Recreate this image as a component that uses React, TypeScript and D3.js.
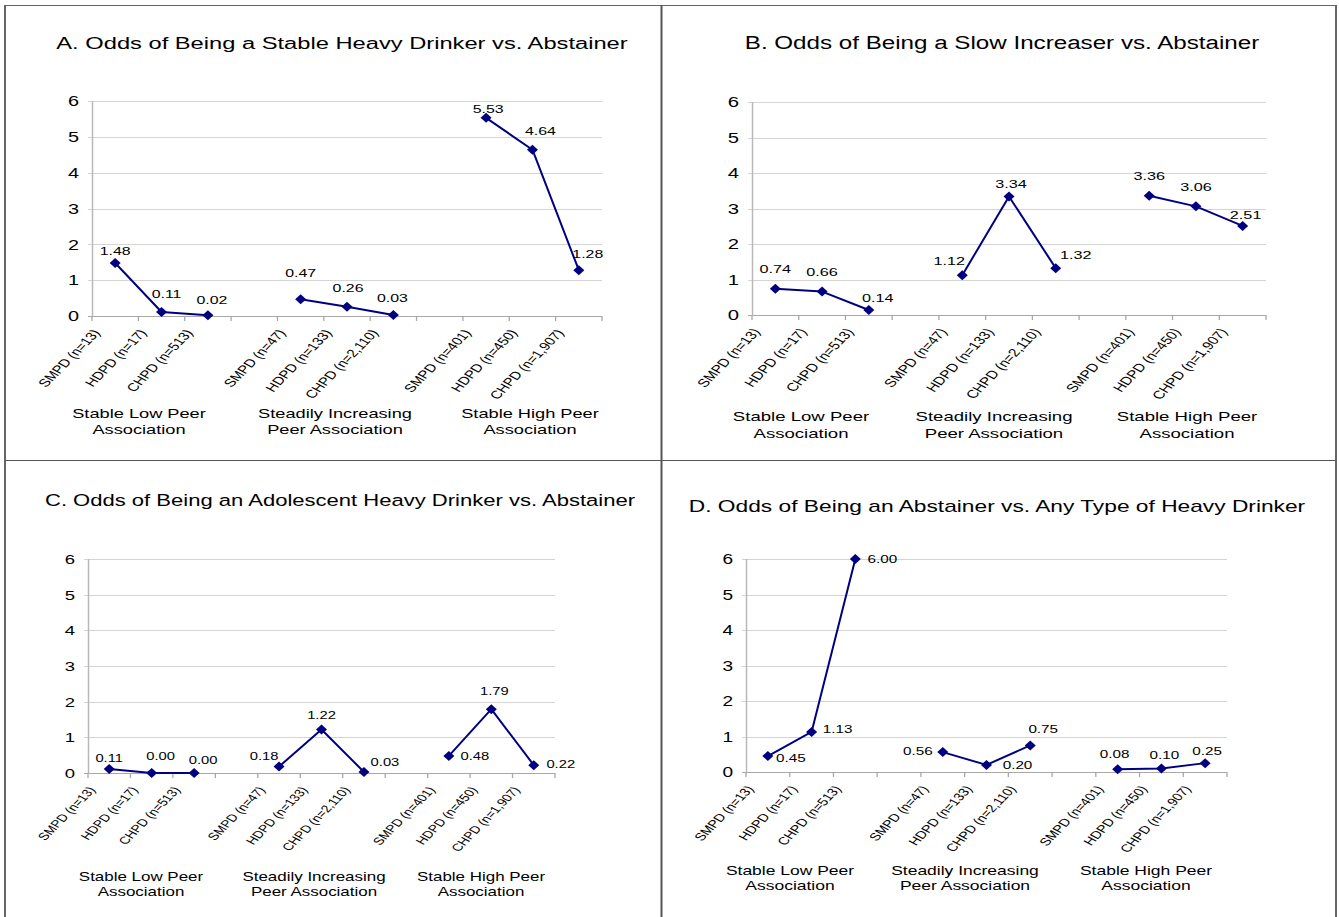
import React from 'react';
import * as d3 from 'd3';

// Categories along every x axis (blank slots separate the three peer groups)
const categories = [
  'SMPD (n=13)', 'HDPD (n=17)', 'CHPD (n=513)', '',
  'SMPD (n=47)', 'HDPD (n=133)', 'CHPD (n=2,110)', '',
  'SMPD (n=401)', 'HDPD (n=450)', 'CHPD (n=1,907)',
];

const groupLabels = [
  ['Stable Low Peer', 'Association'],
  ['Steadily Increasing', 'Peer Association'],
  ['Stable High Peer', 'Association'],
];

const yTicks = [0, 1, 2, 3, 4, 5, 6];

const titles = [
  'A. Odds of Being a Stable Heavy Drinker vs. Abstainer',
  'B. Odds of Being a Slow Increaser vs. Abstainer',
  'C. Odds of Being an Adolescent Heavy Drinker vs. Abstainer',
  'D. Odds of Being an Abstainer vs. Any Type of Heavy Drinker',
];

// Odds ratios per category (null = gap between groups)
const oddsA = [1.48, 0.11, 0.02, null, 0.47, 0.26, 0.03, null, 5.53, 4.64, 1.28];
const oddsB = [0.74, 0.66, 0.14, null, 1.12, 3.34, 1.32, null, 3.36, 3.06, 2.51];
const oddsC = [0.11, 0.0, 0.0, null, 0.18, 1.22, 0.03, null, 0.48, 1.79, 0.22];
const oddsD = [0.45, 1.13, 6.0, null, 0.56, 0.2, 0.75, null, 0.08, 0.1, 0.25];

// Data-label placement relative to each marker (label centre offset, px)
const labelOffsetsA = [[0, -12], [5, -18], [4, -15], null, [0, -26], [1, -19], [-1, -17], null, [2, -9], [8, -19], [9, -16]];
const labelOffsetsB = [[0, -20], [0, -20], [9, -12], null, [-13, -15], [2, -13], [20, -13], null, [0, -20], [0, -20], [3, -11]];
const labelOffsetsC = [[0, -11], [9, -17], [9, -13], null, [-15, -10], [0, -14], [21, -10], null, [26, 0], [3, -18], [27, -1]];
const labelOffsetsD = [[23, 2], [26, -3], [27, 0], null, [-25, -1], [31, 0], [13, -16], null, [-3, -15], [3, -13], [2, -12]];

const SX = 1.37; // horizontal stretch applied to all text
const FONT = '"Liberation Sans", Arial, Helvetica, sans-serif';
const NAVY = '#000080';

const panels = [
  { title: titles[0], values: oddsA, offsets: labelOffsetsA, k: 1.0, x0: 92, x1: 602, yTop: 101, yBase: 316, titleX: 342, titleY: 49, groupX: [139, 335, 530], groupY: 417.5 },
  { title: titles[1], values: oddsB, offsets: labelOffsetsB, k: 1.02, x0: 752, x1: 1266, yTop: 102, yBase: 315, titleX: 1002, titleY: 48.5, groupX: [801, 994, 1187], groupY: 421 },
  { title: titles[2], values: oddsC, offsets: labelOffsetsC, k: 0.93, x0: 88, x1: 555, yTop: 559, yBase: 773, titleX: 340, titleY: 505.5, groupX: [141, 314, 481], groupY: 880.5 },
  { title: titles[3], values: oddsD, offsets: labelOffsetsD, k: 0.96, x0: 746, x1: 1227, yTop: 559, yBase: 772, titleX: 997, titleY: 511.5, groupX: [790, 965, 1146], groupY: 874.5 },
];

type PanelCfg = typeof panels[number];

function StretchText({ x, y, children, size, anchor = 'middle', rotate = 0, dy }: any) {
  return (
    <text
      transform={`translate(${x},${y}) scale(${SX},1)${rotate ? ` rotate(${rotate})` : ''}`}
      textAnchor={anchor}
      fontSize={size}
      fontFamily={FONT}
      fill="#000"
      dy={dy}
    >
      {children}
    </text>
  );
}

function Panel({ cfg }: { cfg: PanelCfg }) {
  const k = cfg.k;
  const x = d3
    .scaleBand<number>()
    .domain(d3.range(categories.length))
    .range([cfg.x0, cfg.x1])
    .paddingInner(0)
    .paddingOuter(0);
  const y = d3.scaleLinear().domain([0, 6]).range([cfg.yBase, cfg.yTop]);
  const bw = x.bandwidth();
  const cx = (i: number) => (x(i) as number) + bw / 2;

  const line = d3
    .line<number | null>()
    .defined((d) => d != null)
    .x((_, i) => cx(i))
    .y((d) => y(d as number));

  const boundaries = d3.range(categories.length + 1).map((i) => cfg.x0 + i * bw);
  const diamond = 'M0,-5L5.5,0L0,5L-5.5,0Z';

  return (
    <g>
      <StretchText x={cfg.titleX} y={cfg.titleY} size={17.3 * k}>
        {cfg.title}
      </StretchText>

      {/* gridlines and y ticks */}
      {yTicks.map((t) => (
        <g key={t}>
          <line
            x1={cfg.x0 - 4}
            x2={cfg.x1}
            y1={Math.round(y(t)) + 0.5}
            y2={Math.round(y(t)) + 0.5}
            stroke={t === 0 ? '#a8a8a8' : '#d4d4d4'}
            strokeWidth={1}
          />
          <StretchText x={cfg.x0 - 13} y={y(t)} size={14.5 * k} anchor="end" dy="0.36em">
            {t}
          </StretchText>
        </g>
      ))}

      {/* y axis */}
      <line x1={cfg.x0 + 0.5} x2={cfg.x0 + 0.5} y1={cfg.yTop} y2={cfg.yBase + 1} stroke="#b8b8b8" strokeWidth={1.5} />

      {/* x ticks at category boundaries */}
      {boundaries.map((b, i) => (
        <line key={i} x1={b} x2={b} y1={cfg.yBase} y2={cfg.yBase + 5} stroke="#a8a8a8" strokeWidth={1.3} />
      ))}

      {/* rotated category labels */}
      {categories.map((c, i) =>
        c ? (
          <StretchText key={i} x={cx(i) - bw * 0.31} y={cfg.yBase + 17} size={11.2 * k} anchor="end" rotate={-54}>
            {c}
          </StretchText>
        ) : null
      )}

      {/* group labels */}
      {groupLabels.map((lines, gi) => (
        <g key={gi}>
          {lines.map((ln, li) => (
            <StretchText key={li} x={cfg.groupX[gi]} y={cfg.groupY + li * 16.5 * k} size={13.3 * k}>
              {ln}
            </StretchText>
          ))}
        </g>
      ))}

      {/* series */}
      <path d={line(cfg.values) || ''} fill="none" stroke={NAVY} strokeWidth={2} strokeLinejoin="round" />
      {cfg.values.map((v, i) =>
        v == null ? null : (
          <path key={i} d={diamond} transform={`translate(${cx(i)},${y(v)})`} fill={NAVY} />
        )
      )}
      {cfg.values.map((v, i) => {
        const off = cfg.offsets[i];
        if (v == null || !off) return null;
        return (
          <StretchText key={i} x={cx(i) + off[0]} y={y(v) + off[1]} size={11.6 * k} dy="0.36em">
            {d3.format('.2f')(v)}
          </StretchText>
        );
      })}
    </g>
  );
}

export default function App() {
  return (
    <svg
      width={1339}
      height={917}
      style={{ position: 'absolute', left: 0, top: 0, display: 'block', background: '#fff' }}
    >
      <rect x={0} y={0} width={1339} height={917} fill="#fff" />
      {/* panel frame */}
      <line x1={4} x2={1337} y1={5.5} y2={5.5} stroke="#666" strokeWidth={1} />
      <line x1={5} x2={5} y1={5} y2={917} stroke="#666" strokeWidth={2} />
      <line x1={661.5} x2={661.5} y1={5} y2={917} stroke="#555" strokeWidth={2} />
      <line x1={1336} x2={1336} y1={5} y2={917} stroke="#666" strokeWidth={2} />
      <line x1={5} x2={1336} y1={460.5} y2={460.5} stroke="#555" strokeWidth={1} />
      {panels.map((p, i) => (
        <Panel key={i} cfg={p} />
      ))}
    </svg>
  );
}
